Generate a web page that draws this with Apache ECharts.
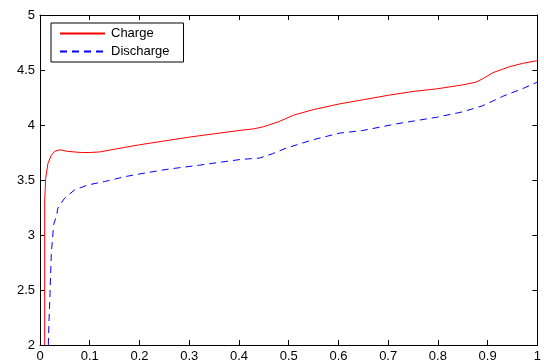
<!DOCTYPE html>
<html>
<head>
<meta charset="utf-8">
<script src="https://cdn.jsdelivr.net/npm/echarts@6/dist/echarts.min.js"></script>
<style>
  html, body { margin: 0; padding: 0; background: #fff; }
  #chart { width: 544px; height: 363px; }
</style>
</head>
<body>
<div id="chart"></div>
<script>
const seriesNames = ['Charge', 'Discharge']
const seriesColors = ['#ff0000', '#0000ff']

const chargeX = [0.0094, 0.0094, 0.0114, 0.016, 0.0227, 0.0295, 0.0395, 0.056, 0.083, 0.1, 0.12, 0.15, 0.2, 0.25, 0.3, 0.35, 0.4, 0.43, 0.45, 0.48, 0.51, 0.55, 0.6, 0.65, 0.7, 0.75, 0.8, 0.85, 0.877, 0.89, 0.91, 0.944, 0.97, 1.0]
const chargeY = [2.0, 3.31, 3.515, 3.65, 3.725, 3.76, 3.775, 3.76, 3.75, 3.75, 3.755, 3.78, 3.82, 3.855, 3.89, 3.92, 3.95, 3.965, 3.985, 4.03, 4.09, 4.14, 4.19, 4.23, 4.27, 4.305, 4.33, 4.365, 4.39, 4.42, 4.475, 4.53, 4.56, 4.585]

const dischargeX = [0.0167, 0.018, 0.0201, 0.0227, 0.0275, 0.0335, 0.036, 0.0495, 0.0696, 0.0964, 0.13, 0.17, 0.214, 0.26, 0.321, 0.36, 0.402, 0.442, 0.468, 0.495, 0.549, 0.602, 0.649, 0.716, 0.797, 0.85, 0.89, 0.93, 0.97, 1.0]
const dischargeY = [2.0, 2.2, 2.466, 2.83, 3.095, 3.18, 3.245, 3.335, 3.41, 3.455, 3.486, 3.53, 3.566, 3.6, 3.635, 3.66, 3.686, 3.70, 3.74, 3.79, 3.866, 3.926, 3.95, 4.01, 4.07, 4.12, 4.175, 4.26, 4.33, 4.39]

const xTicks = { min: 0, max: 1, interval: 0.1 }
const yTicks = { min: 2, max: 5, interval: 0.5 }

const zip = (xs, ys) => xs.map((x, i) => [x, ys[i]])

const chart = echarts.init(document.getElementById('chart'))

const labelStyle = {
  color: '#000',
  fontFamily: 'Liberation Sans, Arial, sans-serif',
  fontSize: 13
}

const baseAxis = (range, show, pos, fmt) => ({
  type: 'value',
  position: pos,
  min: range.min,
  max: range.max,
  interval: range.interval,
  axisLine: { show: true, onZero: false, lineStyle: { color: '#000', width: 1 } },
  axisTick: { show: true, inside: true, length: 5, lineStyle: { color: '#000' } },
  axisLabel: { show: show, margin: 5, formatter: fmt, ...labelStyle },
  splitLine: { show: false }
})

const fmt = v => String(Math.round(v * 10) / 10)

const dashes = ['solid', [7, 5]]

chart.setOption({
  animation: false,
  backgroundColor: '#fff',
  grid: { left: 40, right: 6, top: 15, bottom: 15 },
  legend: {
    orient: 'vertical',
    left: 51,
    top: 23,
    padding: [4, 14, 4, 8],
    itemGap: 5,
    itemWidth: 45,
    itemHeight: 12,
    backgroundColor: '#fff',
    borderColor: '#000',
    borderWidth: 1,
    borderRadius: 0,
    textStyle: { ...labelStyle, padding: [0, 0, 0, 1] },
    data: seriesNames.map(name => ({
      name: name,
      itemStyle: { color: 'rgba(255,255,255,0)', borderWidth: 0 }
    }))
  },
  xAxis: [
    baseAxis(xTicks, true, 'bottom', fmt),
    baseAxis(xTicks, false, 'top', fmt)
  ],
  yAxis: [
    baseAxis(yTicks, true, 'left', fmt),
    baseAxis(yTicks, false, 'right', fmt)
  ],
  series: [
    {
      name: seriesNames[0],
      type: 'line',
      symbol: 'none',
      lineStyle: { color: seriesColors[0], width: 1 },
      itemStyle: { color: seriesColors[0] },
      data: zip(chargeX, chargeY)
    },
    {
      name: seriesNames[1],
      type: 'line',
      symbol: 'none',
      lineStyle: { color: seriesColors[1], width: 1, type: dashes[1] },
      itemStyle: { color: seriesColors[1] },
      data: zip(dischargeX, dischargeY)
    }
  ]
})
</script>
</body>
</html>
